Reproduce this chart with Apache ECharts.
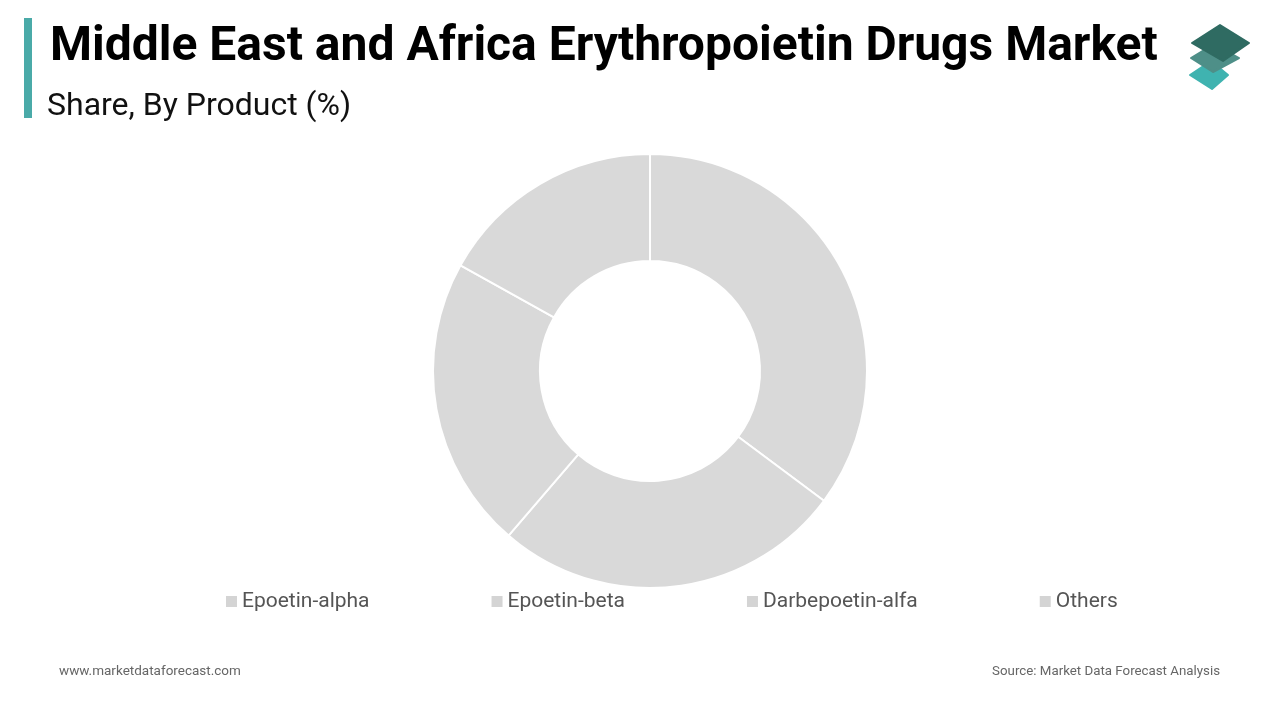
<!DOCTYPE html>
<html><head><meta charset="utf-8">
<script src="https://cdn.jsdelivr.net/npm/echarts@6/dist/echarts.min.js"></script>
<style>html,body{margin:0;padding:0;background:#fff}#c{width:1280px;height:720px}</style>
</head><body><div id="c"></div>
<script>
const categories = ['Epoetin-alpha', 'Epoetin-beta', 'Darbepoetin-alfa', 'Others'];
const shares = [35.2, 26.1, 21.8, 16.9];
const sliceColor = '#d9d9d9';

const chart = echarts.init(document.getElementById('c'));
chart.setOption({
  backgroundColor: '#fff',
  animation: false,
  title: [
    {text: 'Middle East and Africa Erythropoietin Drugs Market', left: 45, top: 19,
     textStyle: {fontFamily: 'Roboto', fontWeight: 'bold', fontSize: 48, color: '#000'}},
    {text: 'Share, By Product (%)', left: 42, top: 86,
     textStyle: {fontFamily: 'Roboto', fontWeight: 'normal', fontSize: 32, color: '#111'}},
    {text: 'www.marketdataforecast.com', left: 54, top: 660,
     textStyle: {fontFamily: 'Roboto', fontWeight: 'normal', fontSize: 13.5, color: '#666'}},
    {text: 'Source: Market Data Forecast Analysis', right: 55, top: 660,
     textStyle: {fontFamily: 'Roboto', fontWeight: 'normal', fontSize: 13.3, color: '#666'}}
  ],
  legend: {
    data: categories, left: 221, top: 586, itemWidth: 11, itemHeight: 11, itemGap: 122,
    icon: 'rect', itemStyle: {color: '#d4d4d4', borderWidth: 0},
    textStyle: {fontFamily: 'Roboto', fontSize: 21, color: '#555', padding: [0,0,0,0]}
  },
  series: [{
    type: 'pie', center: [650, 371], radius: [110, 217], startAngle: 90, clockwise: true,
    label: {show: false}, labelLine: {show: false}, silent: true,
    itemStyle: {borderColor: '#fff', borderWidth: 2},
    data: categories.map((n, i) => ({name: n, value: shares[i], itemStyle: {color: sliceColor}}))
  }],
  graphic: [
    {type: 'rect', shape: {x: 24, y: 18, width: 8, height: 100}, style: {fill: '#4aaaa8'}},
    {type: 'polygon', shape: {points: [[1190,75],[1211,61],[1228,75],[1212,89]]}, style: {fill: '#3fb3b0', stroke: '#3fb3b0', lineWidth: 2, lineJoin: 'round'}},
    {type: 'polygon', shape: {points: [[1191,58],[1214,44],[1239,58],[1213,72]]}, style: {fill: '#4e8f88', stroke: '#4e8f88', lineWidth: 2, lineJoin: 'round'}},
    {type: 'polygon', shape: {points: [[1192,43],[1220,25],[1249,43],[1223,61]]}, style: {fill: '#2f6b62', stroke: '#2f6b62', lineWidth: 2, lineJoin: 'round'}}
  ]
});
</script></body></html>
